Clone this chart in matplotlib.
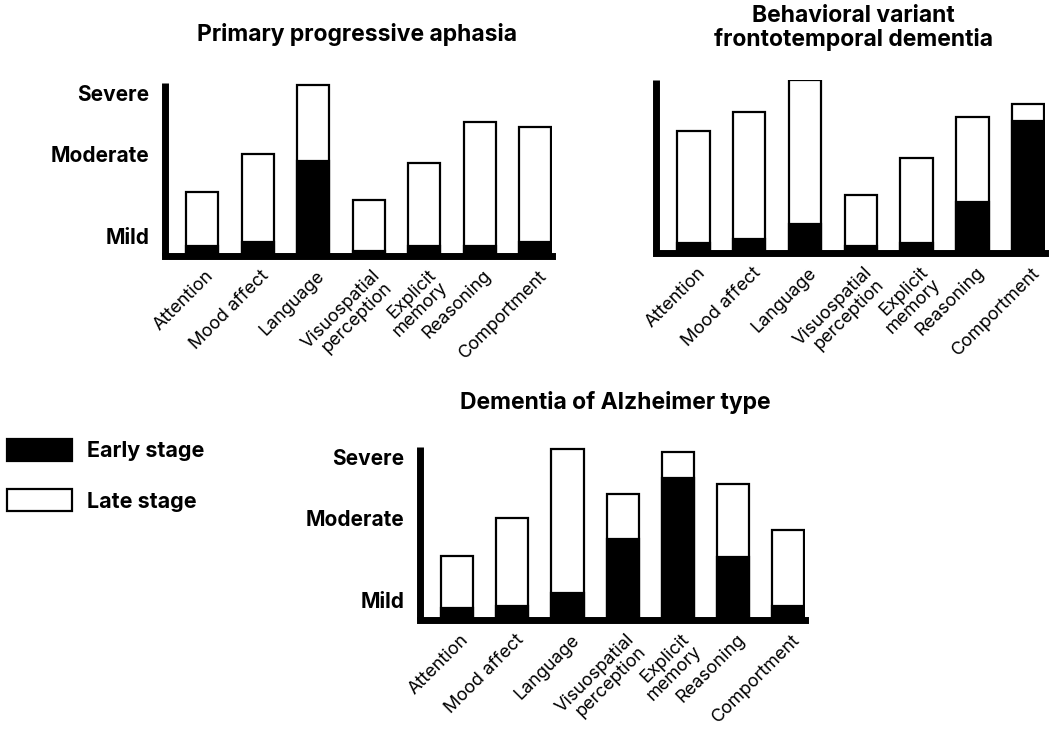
import matplotlib
matplotlib.use("Agg")
import matplotlib.pyplot as plt
import matplotlib.transforms as mtransforms
from matplotlib.patches import Patch

plt.rcParams['font.family'] = ['Inter', 'DejaVu Sans']

# cognitive domains on the x axis
skills = ["Attention", "Mood affect", "Language", "Visuospatial\nperception",
          "Explicit\nmemory", "Reasoning", "Comportment"]

# severity, 0 = none, ~100 = most severe
ppa_late = [36, 58, 99, 31, 53, 77, 74]
ppa_early = [4, 6, 54, 1, 4, 4, 6]
bv_late = [70, 81, 100, 32, 54, 78, 86]
bv_early = [4, 6, 15, 2, 4, 28, 76]
dat_late = [36, 58, 99, 72, 97, 78, 51]
dat_early = [5, 6, 14, 46, 82, 35, 6]

severity_ticks = [10, 58, 94]
severity_labels = ["Mild", "Moderate", "Severe"]

fig = plt.figure(figsize=(10.5, 7.34), dpi=100)


def draw_panel(rect, late, early, show_y):
    ax = fig.add_axes(rect)
    x = range(len(skills))
    ax.bar(x, late, width=0.58, color='white', edgecolor='black', linewidth=1.6, zorder=2)
    ax.bar(x, early, width=0.58, color='black', edgecolor='black', linewidth=1.6, zorder=3)
    ax.set_xlim(-0.67, 6.3)
    ax.set_ylim(-2, 100)
    for s in ['top', 'right']:
        ax.spines[s].set_visible(False)
    ax.spines['left'].set_linewidth(5)
    ax.spines['bottom'].set_linewidth(5)
    ax.spines['left'].set_capstyle('butt')
    ax.set_xticks(list(x))
    ax.set_xticklabels(skills, rotation=45, ha='right', va='top',
                       rotation_mode='anchor', fontsize=13, linespacing=1.0)
    ax.tick_params(axis='x', length=0, pad=8)
    shift = mtransforms.ScaledTranslation(3 / 100, 0, fig.dpi_scale_trans)
    for lab in ax.get_xticklabels():
        lab.set_transform(lab.get_transform() + shift)
    if show_y:
        ax.set_yticks(severity_ticks)
        ax.set_yticklabels(severity_labels, fontsize=15, fontweight='bold')
        ax.tick_params(axis='y', length=0, pad=11)
    else:
        ax.set_yticks([])
    return ax


draw_panel([165 / 1050, 1 - 256 / 734, 387 / 1050, 173 / 734], ppa_late, ppa_early, True)
draw_panel([656 / 1050, 1 - 253 / 734, 389 / 1050, 173 / 734], bv_late, bv_early, False)
draw_panel([420 / 1050, 1 - 620 / 734, 385 / 1050, 173 / 734], dat_late, dat_early, True)

fig.text(357 / 1050, 1 - 35 / 734, "Primary progressive aphasia", ha='center', va='center',
         fontsize=16.5, fontweight='bold')
fig.text(853 / 1050, 1 - 28 / 734, "Behavioral variant\nfrontotemporal dementia", ha='center',
         va='center', fontsize=16.5, fontweight='bold', linespacing=1.05)
fig.text(615 / 1050, 1 - 402 / 734, "Dementia of Alzheimer type", ha='center', va='center',
         fontsize=16.5, fontweight='bold')

handles = [Patch(facecolor='black', edgecolor='black', linewidth=1.6, label='Early stage'),
           Patch(facecolor='white', edgecolor='black', linewidth=1.6, label='Late stage')]
leg = fig.legend(handles=handles, loc='upper left', bbox_to_anchor=(7 / 1050, 1 - 439 / 734),
                 frameon=False, borderpad=0, borderaxespad=0, handlelength=3.0,
                 handleheight=1.2, handletextpad=0.7, labelspacing=1.3,
                 prop={'size': 15.5, 'weight': 'bold'})

fig.savefig("out.png", dpi=100)
